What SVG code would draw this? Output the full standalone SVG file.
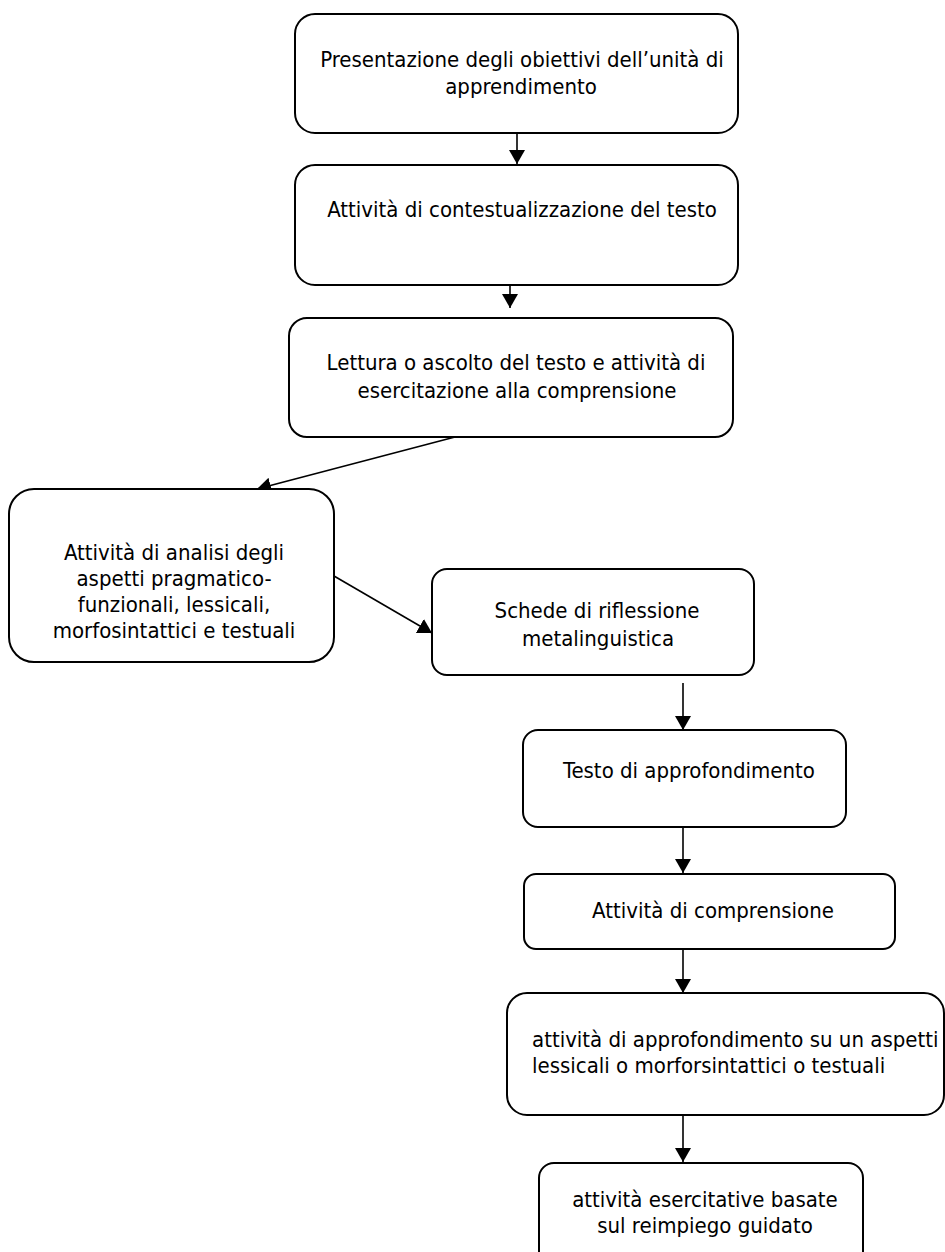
<svg xmlns="http://www.w3.org/2000/svg" width="945" height="1252" viewBox="0 0 945 1252">
<defs>
<marker id="arr" markerUnits="userSpaceOnUse" markerWidth="18" markerHeight="18" refX="14" refY="8" orient="auto">
<path d="M0,0 L14,8 L0,16 z" fill="#000"/>
</marker>
<style>
.box{fill:#fff;stroke:#000;stroke-width:2}
.t{font-family:"DejaVu Sans Condensed","DejaVu Sans",sans-serif;font-size:22px;fill:#000;text-anchor:middle}
.l{text-anchor:start}
.c{stroke:#000;stroke-width:1.6;fill:none;marker-end:url(#arr)}
</style>
</defs>
<rect width="945" height="1252" fill="#fff"/>
<g id="connectors">
<line class="c" x1="517" y1="133" x2="517" y2="164"/>
<line class="c" x1="510" y1="285" x2="510" y2="308"/>
<line class="c" x1="455" y1="437" x2="257" y2="489"/>
<line class="c" x1="334" y1="576" x2="432" y2="633"/>
<line class="c" x1="683" y1="683" x2="683" y2="730"/>
<line class="c" x1="683" y1="827" x2="683" y2="873"/>
<line class="c" x1="683" y1="949" x2="683" y2="993"/>
<line class="c" x1="683" y1="1115" x2="683" y2="1162"/>
</g>
<g id="n1">
<rect class="box" x="295" y="14" width="443" height="119" rx="20"/>
<text class="t" x="522" y="67">Presentazione degli obiettivi dell’unità di</text>
<text class="t" x="521" y="94">apprendimento</text>
</g>
<g id="n2">
<rect class="box" x="295" y="165" width="443" height="120" rx="20"/>
<text class="t" x="522" y="217">Attività di contestualizzazione del testo</text>
</g>
<g id="n3">
<rect class="box" x="289" y="318" width="444" height="119" rx="18"/>
<text class="t" x="516" y="370">Lettura o ascolto del testo e attività di</text>
<text class="t" x="517" y="398">esercitazione alla comprensione</text>
</g>
<g id="n4">
<rect class="box" x="9" y="489" width="325" height="173" rx="25"/>
<text class="t" x="174" y="560">Attività di analisi degli</text>
<text class="t" x="174" y="586">aspetti pragmatico-</text>
<text class="t" x="174" y="612">funzionali, lessicali,</text>
<text class="t" x="174" y="638">morfosintattici e testuali</text>
</g>
<g id="n5">
<rect class="box" x="432" y="569" width="322" height="106" rx="15"/>
<text class="t" x="597" y="618">Schede di riflessione</text>
<text class="t" x="598" y="646">metalinguistica</text>
</g>
<g id="n6">
<rect class="box" x="523" y="730" width="323" height="97" rx="15"/>
<text class="t" x="689" y="778">Testo di approfondimento</text>
</g>
<g id="n7">
<rect class="box" x="524" y="874" width="371" height="75" rx="12"/>
<text class="t" x="713" y="918">Attività di comprensione</text>
</g>
<g id="n8">
<rect class="box" x="507" y="993" width="437" height="122" rx="20"/>
<text class="t l" x="532" y="1047">attività di approfondimento su un aspetti</text>
<text class="t l" x="532" y="1073">lessicali o morforsintattici o testuali</text>
</g>
<g id="n9">
<rect class="box" x="539" y="1163" width="324" height="105" rx="15"/>
<text class="t" x="705" y="1207">attività esercitative basate</text>
<text class="t" x="705" y="1233">sul reimpiego guidato</text>
</g>
</svg>
